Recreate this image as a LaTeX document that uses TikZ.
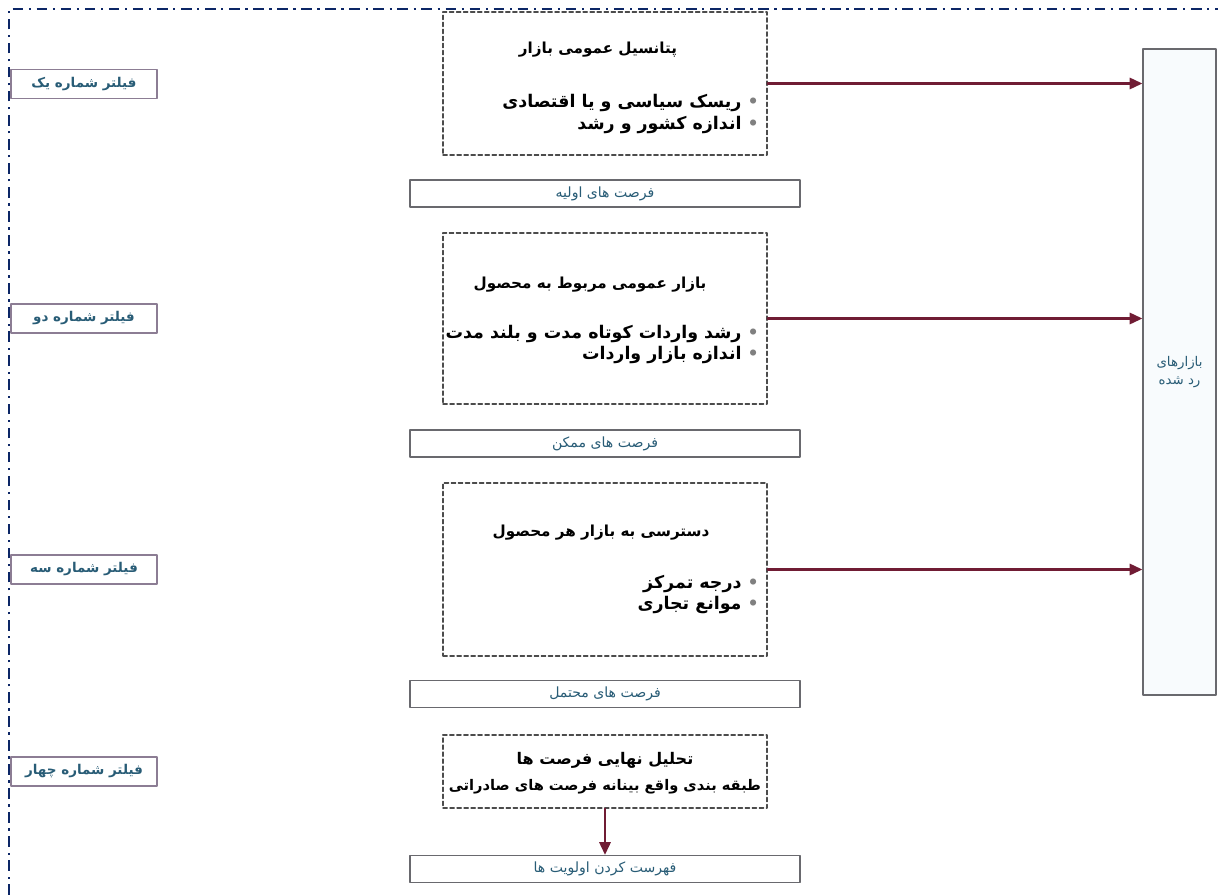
\documentclass[tikz,border=0pt]{standalone}
\usepackage{fontspec}
\usetikzlibrary{arrows.meta}
\TeXXeTstate=1
\newfontfamily\fa[Script=Arabic]{DejaVu Sans}
\newfontfamily\dv{DejaVu Sans}
\definecolor{framenavy}{RGB}{12,38,102}
\definecolor{filterline}{RGB}{140,125,148}
\definecolor{labelteal}{RGB}{40,92,118}
\definecolor{boxgray}{RGB}{105,105,110}
\definecolor{arrowred}{RGB}{112,28,52}
\definecolor{palefill}{RGB}{248,251,253}
\newcommand{\dotmark}{\ {\dv\color{gray}\textbullet}}
\begin{document}
\begin{tikzpicture}[x=0.025cm,y=-0.025cm,line cap=round,line join=round,
    frame/.style={draw=framenavy,line width=2pt,line cap=butt,dash pattern=on 7.5pt off 4pt on 1.6pt off 4pt},
    filterbox/.style={draw=filterline,line width=1pt,minimum width=3.65cm,minimum height=0.725cm,inner sep=0pt,
      font=\fa\bfseries\fontsize{9.6}{11}\selectfont,text=labelteal},
    oppbox/.style={draw=boxgray,line width=0.9pt,minimum width=9.75cm,minimum height=0.675cm,inner sep=0pt,
      font=\fa\fontsize{10}{11}\selectfont,text=labelteal},
    dbox/.style={draw=black!70,line width=1pt,densely dashed,minimum width=8.1cm,inner sep=0pt},
    title/.style={font=\fa\bfseries\fontsize{10.8}{13}\selectfont},
    bul/.style={font=\fa\bfseries\fontsize{12.4}{15.5}\selectfont,align=right,anchor=east,inner sep=0pt},
    arr/.style={draw=arrowred,line width=1.6pt,-{Triangle[length=9pt,width=8pt]}}]
    \useasboundingbox (0,0) rectangle (1218,895);

    \draw[frame] (9,895) -- (9,9) -- (1218,9);

    % filters
    \node[filterbox] (f1) at (84,84) {\beginR فیلتر شماره یک\endR};
    \node[filterbox] (f2) at (84,318.5) {\beginR فیلتر شماره دو\endR};
    \node[filterbox] (f3) at (84,569.5) {\beginR فیلتر شماره سه\endR};
    \node[filterbox] (f4) at (84,771.5) {\beginR فیلتر شماره چهار\endR};

    % rejected markets
    \node[draw=boxgray,line width=0.9pt,fill=palefill,minimum width=1.825cm,minimum height=16.15cm,
      align=center,text=labelteal,font=\fa\fontsize{9.5}{12.5}\selectfont] (rej) at (1179.5,372)
      {\beginR بازارهای\endR\\\beginR رد شده\endR};

    % filter boxes
    \node[dbox,minimum height=3.575cm] (pot) at (605,83.5) {};
    \node[title] (pott) at (598,50) {\beginR پتانسیل عمومی بازار\endR};
    \node[bul] (potb) at (759,114) {\beginR ریسک سیاسی و یا اقتصادی\endR\dotmark\\\beginR اندازه کشور و رشد\endR\dotmark};

    \node[oppbox] (o1) at (605,193.5) {\beginR فرصت های اولیه\endR};

    \node[dbox,minimum height=4.275cm] (gen) at (605,318.5) {};
    \node[title] (gent) at (590,285) {\beginR بازار عمومی مربوط به محصول\endR};
    \node[bul] (genb) at (759,344.5) {\beginR رشد واردات کوتاه مدت و بلند مدت\endR\dotmark\\\beginR اندازه بازار واردات\endR\dotmark};

    \node[oppbox] (o2) at (605,443.5) {\beginR فرصت های ممکن\endR};

    \node[dbox,minimum height=4.325cm] (acc) at (605,569.5) {};
    \node[title] (acct) at (601,533) {\beginR دسترسی به بازار هر محصول\endR};
    \node[bul] (accb) at (759,594.5) {\beginR درجه تمرکز\endR\dotmark\\\beginR موانع تجاری\endR\dotmark};

    \node[oppbox] (o3) at (605,694) {\beginR فرصت های محتمل\endR};

    \node[dbox,minimum height=1.825cm] (fin) at (605,771.5) {};
    \node[title,font=\fa\bfseries\fontsize{11.4}{13}\selectfont] (fint) at (605,760) {\beginR تحلیل نهایی فرصت ها\endR};
    \node[font=\fa\bfseries\fontsize{10.4}{12}\selectfont] (fins) at (605,787) {\beginR طبقه بندی واقع بینانه فرصت های صادراتی\endR};

    \node[oppbox] (o4) at (605,869) {\beginR فهرست کردن اولویت ها\endR};

    % arrows
    \draw[arr] (pot.east) -- (pot.east -| rej.west);
    \draw[arr] (gen.east) -- (gen.east -| rej.west);
    \draw[arr] (acc.east) -- (acc.east -| rej.west);
    \draw[arr] (fin.south) -- (o4.north);
\end{tikzpicture}
\end{document}
